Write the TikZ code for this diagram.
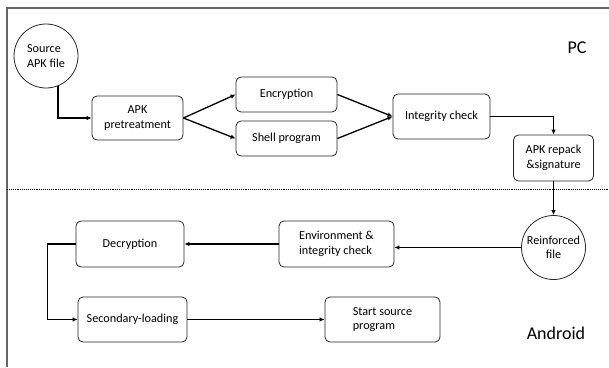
\documentclass[tikz,border=0pt]{standalone}
\usepackage{fontspec}
\setmainfont{Carlito}
\usetikzlibrary{arrows.meta}

\begin{document}
\begin{tikzpicture}[x=1pt, y=-1pt,
  box/.style={draw=black!85, line width=0.8pt, rectangle, rounded corners=5pt, inner sep=0pt, align=center, font=\fontsize{12.2}{14.5}\selectfont},
  disk/.style={draw=black!85, line width=0.8pt, circle, inner sep=0pt, minimum size=64pt, align=center, font=\fontsize{12.2}{14.5}\selectfont},
  flow/.style={line width=1.3pt, -{Latex[length=5pt,width=4.5pt]}},
  side/.style={font=\fontsize{18}{20}\selectfont}]

\useasboundingbox (0,0) rectangle (609,367);

% frame and PC / Android split
\draw[black!60, line width=1.2pt] (7,367) -- (7,8) -- (609,8);
\draw[line width=0.9pt, densely dotted] (7,189) -- (609,189);

\node[side] (pc) at (577,48) {PC};
\node[side] (android) at (556,333) {Android};

% PC side
\node[disk, align=left] (src) at (46,56) {Source\\APK file};
\node[box, minimum width=91pt, minimum height=44pt] (pre) at (137.5,118) {APK\\pretreatment};
\node[box, minimum width=101pt, minimum height=35pt] (enc) at (286.5,94.5) {Encryption};
\node[box, minimum width=101pt, minimum height=35pt] (shell) at (286.5,138.5) {Shell program};
\node[box, minimum width=97pt, minimum height=45pt] (chk) at (441.5,116.5) {Integrity check};
\node[box, minimum width=80pt, minimum height=46pt] (rep) at (553.5,158) {APK repack\\\&signature};

% Android side
\node[disk] (rf) at (553.5,247.5) {Reinforced\\file};
\node[box, align=left, minimum width=115pt, minimum height=46pt] (env) at (336.5,244) {Environment \&\\integrity check};
\node[box, minimum width=108pt, minimum height=46pt] (dec) at (130,244) {Decryption};
\node[box, minimum width=109pt, minimum height=45pt] (sec) at (132.5,319.5) {Secondary-loading};
\node[box, align=left, minimum width=115pt, minimum height=45pt] (start) at (382.5,319.5) {Start source\\program};

% connectors
\draw[flow] (src.-68) |- (pre.west);
\draw[flow] (pre.east) -- (enc.west);
\draw[flow] (pre.east) -- (shell.west);
\draw[flow] (enc.east) -- (chk.west);
\draw[flow] (shell.east) -- (chk.west);
\draw[flow] (chk.east) -| (rep.north);
\draw[flow] (rep.south) -- (rf.north);
\draw[flow] (rf.west) -- (rf.west -| env.east);
\draw[flow] (env.west) -- (dec.east);
\draw[flow] (dec.west) -- ++(-28,0) |- (sec.west);
\draw[flow] (sec.east) -- (start.west);

\end{tikzpicture}
\end{document}
